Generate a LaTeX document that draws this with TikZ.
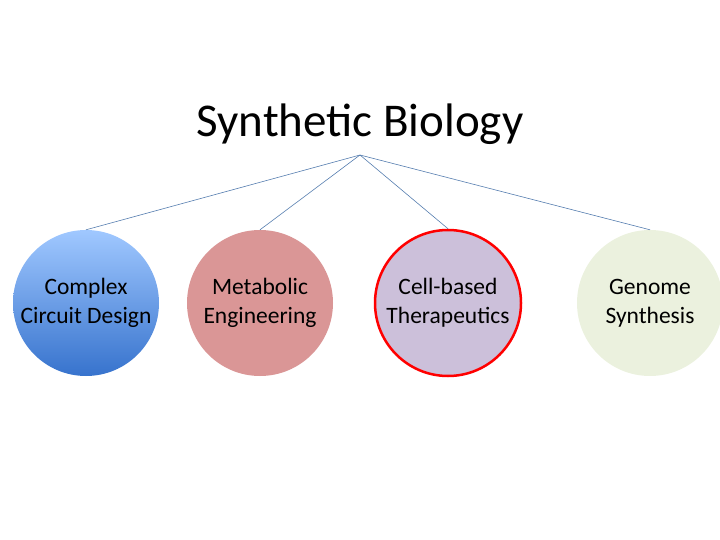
\documentclass[tikz,border=0pt]{standalone}
\usepackage{fontspec}
\setmainfont{Carlito}
\definecolor{lnc}{RGB}{85,125,175}
\definecolor{bTop}{RGB}{160,200,255}
\definecolor{bBot}{RGB}{55,115,205}
\definecolor{pinkc}{RGB}{218,150,150}
\definecolor{lavc}{RGB}{204,192,218}
\definecolor{grnc}{RGB}{235,241,222}
\begin{document}
\begin{tikzpicture}[x=1pt,y=-1pt,
  circ/.style={circle,minimum size=146pt,inner sep=0pt,align=center,font=\fontsize{23.5}{29}\selectfont},
  conn/.style={draw=lnc,line width=0.6pt}]
\useasboundingbox (0,0) rectangle (720,540);
\node[font=\fontsize{47}{52}\selectfont] (title) at (360,124) {Synthetic Biology};
\coordinate (apex) at (360,155);
\node[circ,top color=bTop,bottom color=bBot] (c1) at (86,303) {Complex\\Circuit Design};
\node[circ,fill=pinkc] (c2) at (260,303) {Metabolic\\Engineering};
\node[circ,fill=lavc,draw=red,line width=2.5pt] (c3) at (448,303) {Cell-based\\Therapeutics};
\node[circ,fill=grnc] (c4) at (650,303) {Genome\\Synthesis};
\draw[conn] (apex) -- (c1.north);
\draw[conn] (apex) -- (c2.north);
\draw[conn] (apex) -- (c3.north);
\draw[conn] (apex) -- (c4.north);
\end{tikzpicture}
\end{document}
